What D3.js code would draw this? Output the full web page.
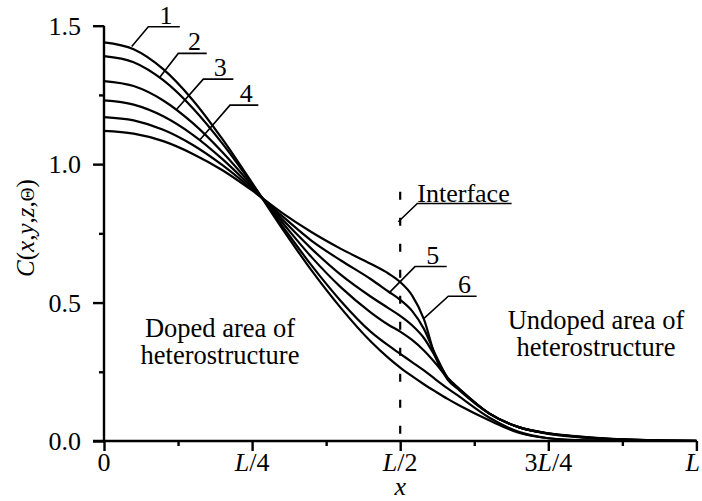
<!DOCTYPE html>
<html>
<head>
<meta charset="utf-8">
<script src="https://cdn.jsdelivr.net/npm/d3@7"></script>
</head>
<body style="margin:0">
<script>
// x positions as fraction of L
let xs = [0, 0.05, 0.1, 0.15, 0.2, 0.25, 0.3, 0.35, 0.4, 0.45, 0.48, 0.5, 0.52, 0.54, 0.56, 0.58, 0.6, 0.65, 0.7, 0.75, 0.8, 0.85, 0.9, 0.95, 1.0];

let curve1 = [1.44, 1.415, 1.343, 1.231, 1.09, 0.932, 0.77, 0.617, 0.48, 0.36, 0.30, 0.265, 0.234, 0.205, 0.178, 0.152, 0.128, 0.075, 0.03, 0.01, 0.003, 0.001, 0, 0, 0];
let curve2 = [1.39, 1.368, 1.303, 1.202, 1.074, 0.928, 0.78, 0.635, 0.505, 0.395, 0.345, 0.315, 0.285, 0.255, 0.222, 0.19, 0.16, 0.085, 0.033, 0.01, 0.003, 0.001, 0, 0, 0];
let curve3 = [1.30, 1.282, 1.23, 1.148, 1.043, 0.922, 0.792, 0.665, 0.555, 0.465, 0.42, 0.395, 0.365, 0.327, 0.28, 0.228, 0.188, 0.1, 0.05, 0.026, 0.014, 0.007, 0.003, 0.001, 0];
let curve4 = [1.23, 1.215, 1.173, 1.106, 1.018, 0.915, 0.803, 0.695, 0.60, 0.522, 0.48, 0.452, 0.418, 0.372, 0.302, 0.228, 0.188, 0.1, 0.05, 0.027, 0.015, 0.008, 0.004, 0.0015, 0.0005];
let curve5 = [1.17, 1.158, 1.124, 1.069, 0.996, 0.909, 0.814, 0.724, 0.652, 0.585, 0.54, 0.51, 0.47, 0.405, 0.31, 0.228, 0.186, 0.1, 0.05, 0.028, 0.016, 0.008, 0.004, 0.0015, 0.0005];
let curve6 = [1.12, 1.110, 1.083, 1.037, 0.978, 0.905, 0.825, 0.755, 0.694, 0.64, 0.605, 0.574, 0.526, 0.44, 0.30, 0.222, 0.183, 0.1, 0.05, 0.028, 0.017, 0.009, 0.004, 0.0015, 0.0005];

let xTicks = [0, 0.25, 0.5, 0.75, 1];
let xTickLabels = [[["0", false]], [["L", true], ["/4", false]], [["L", true], ["/2", false]], [["3", false], ["L", true], ["/4", false]], [["L", true]]];
let yTicks = [0, 0.5, 1.0, 1.5];

// curve labels: name, point on curve (t, v), elbow (t, v), end of underline t
let labels = [
    ["1", 0.0468, 1.425, 0.0748, 1.496, 0.128],
    ["2", 0.0945, 1.315, 0.1254, 1.400, 0.1734],
    ["3", 0.1227, 1.198, 0.1676, 1.307, 0.2183],
    ["4", 0.162, 1.088, 0.2127, 1.213, 0.2605],
    ["5", 0.4816, 0.536, 0.525, 0.630, 0.5785],
    ["6", 0.5402, 0.443, 0.5812, 0.523, 0.629]
];
let interfaceX = 0.5, interfaceTop = 0.9;

let width = 702, height = 501;
let margin = { top: 25.7, right: 5.6, bottom: 60, left: 104 };

let svg = d3.select("body").append("svg")
    .attr("width", width)
    .attr("height", height);

let x = d3.scaleLinear().domain([0, 1]).range([margin.left, width - margin.right]);
let y = d3.scaleLinear().domain([0, 1.5]).range([441, margin.top]);

// text helper: serif font set per element
function addText(attrs, size) {
    let t = svg.append("text")
        .attr("font-family", "Times New Roman")
        .attr("font-size", size);
    Object.keys(attrs).forEach(function(k) { t.attr(k, attrs[k]); });
    return t;
}

// tick labels
yTicks.forEach(function(d) {
    addText({ x: 81, y: y(d) + 9, "text-anchor": "end" }, 26).text(d.toFixed(1));
});

xTicks.forEach(function(t, i) {
    let txt = addText({ x: i === 4 ? 700 : x(t), y: 471, "text-anchor": i === 4 ? "end" : "middle" }, 26);
    xTickLabels[i].forEach(function(p) {
        txt.append("tspan").attr("font-style", p[1] ? "italic" : "normal").text(p[0]);
    });
});

addText({ x: x(0.5), y: 495, "text-anchor": "middle", "font-style": "italic" }, 26).text("x");

// y axis title
let yTitle = addText({ transform: "translate(34,228) rotate(-90)", "text-anchor": "middle" }, 25);
[["C", true], ["(", false], ["x", true], [",", false], ["y", true], [",", false], ["z", true], [",", false], ["\u0398", false], [")", false]]
    .forEach(function(p) {
        let ts = yTitle.append("tspan").attr("font-style", p[1] ? "italic" : "normal").text(p[0]);
        if (p[0] === "\u0398") ts.attr("font-size", 19);
    });

// axes
let xAxis = svg.append("g").attr("transform", "translate(0,441)")
    .call(d3.axisBottom(x).tickValues(d3.range(0, 1.0001, 0.125)).tickSize(5).tickFormat(""));
xAxis.selectAll(".tick line").attr("y2", function(d, i) { return i % 2 === 0 ? 10 : 5; });
xAxis.select(".domain").attr("d", "M" + (x(0) - 11) + ",0H" + x(1));

let yAxis = svg.append("g").attr("transform", "translate(" + x(0) + ",0)")
    .call(d3.axisLeft(y).tickValues(d3.range(0, 1.5001, 0.25)).tickSize(5).tickFormat(""));
yAxis.selectAll(".tick line").attr("x2", function(d, i) { return i % 2 === 0 ? -11 : -5; });
yAxis.select(".domain").attr("d", "M0," + y(0) + "V" + y(1.5));

svg.selectAll(".domain, .tick line").attr("stroke", "#000").attr("stroke-width", 2.4);

// curves
let series = [curve1, curve2, curve3, curve4, curve5, curve6];
let line = d3.line()
    .x(function(d, i) { return x(xs[i]); })
    .y(function(d) { return y(d); })
    .curve(d3.curveMonotoneX);

svg.selectAll(".curve").data(series).enter().append("path")
    .attr("class", "curve")
    .attr("d", line)
    .attr("fill", "none")
    .attr("stroke", "#000")
    .attr("stroke-width", 2.2);

// interface line
svg.append("line")
    .attr("x1", x(interfaceX)).attr("x2", x(interfaceX))
    .attr("y1", y(interfaceTop)).attr("y2", y(0))
    .attr("stroke", "#000")
    .attr("stroke-width", 2.2)
    .attr("stroke-dasharray", "8,18");

// curve number labels
labels.forEach(function(l) {
    svg.append("path")
        .attr("d", "M" + x(l[1]) + "," + y(l[2]) + "L" + x(l[3]) + "," + y(l[4]) + "H" + x(l[5]))
        .attr("fill", "none")
        .attr("stroke", "#000")
        .attr("stroke-width", 1.6);
    addText({ x: (x(l[3]) + x(l[5])) / 2 + 2, y: y(l[4]) - 3, "text-anchor": "middle" }, 26).text(l[0]);
});

// Interface label
svg.append("path")
    .attr("d", "M" + x(0.4968) + "," + y(0.792) + "L" + x(0.5289) + "," + y(0.858) + "H" + x(0.688))
    .attr("fill", "none")
    .attr("stroke", "#000")
    .attr("stroke-width", 1.6);
addText({ x: x(0.5289), y: y(0.858) - 1 }, 26).text("Interface");

// area captions
function caption(lines, cx, baseline) {
    let t = addText({ "text-anchor": "middle" }, 26.5);
    lines.forEach(function(s, i) {
        t.append("tspan").attr("x", cx).attr("y", baseline + i * 27).text(s);
    });
}
caption(["Doped area of", "heterostructure"], 220, 337);
caption(["Undoped area of", "heterostructure"], 596, 329);
</script>
</body>
</html>
